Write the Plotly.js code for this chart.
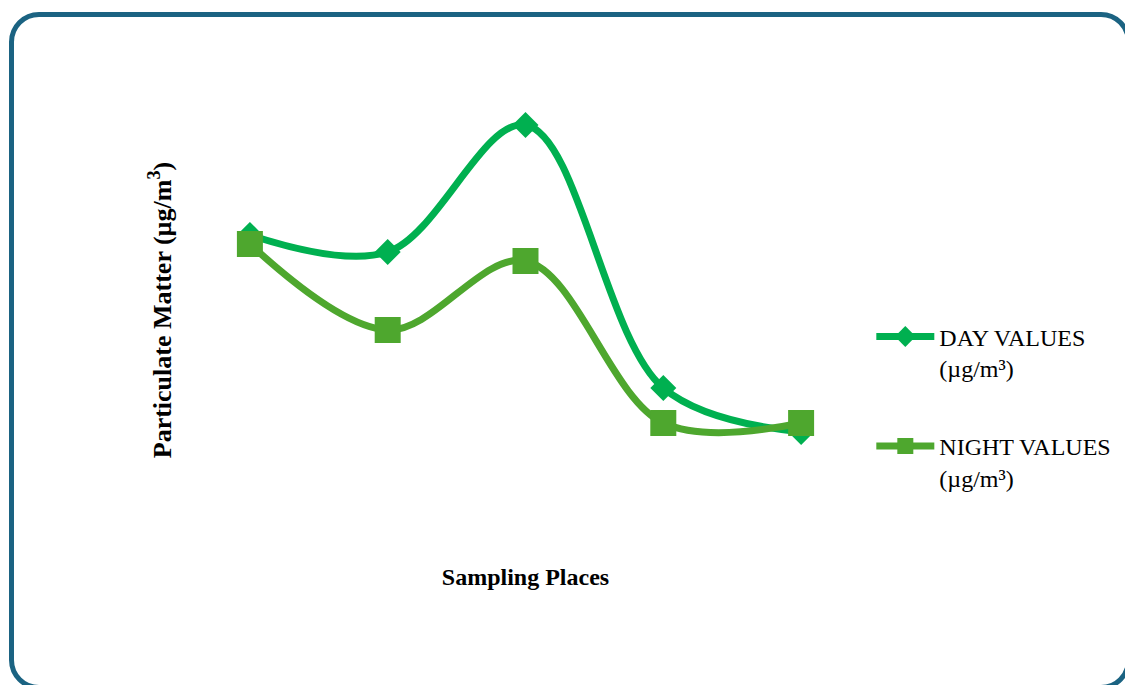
<!DOCTYPE html>
<html>
<head>
<meta charset="utf-8">
<script src="https://cdn.plot.ly/plotly-3.0.1.min.js"></script>
<style>
  html, body { margin: 0; padding: 0; background: #ffffff; }
  #wrap { position: relative; width: 1125px; height: 685px; overflow: hidden; }
  #chart { position: absolute; left: 0; top: 0; width: 1125px; height: 685px; }
  #frame { position: absolute; left: 9px; top: 12px; width: 1112px; height: 668px;
           border: 5px solid #1b6382; border-radius: 30px; pointer-events: none; z-index: 5; }
</style>
</head>
<body>
<div id="wrap">
  <div id="chart"></div>
  <div id="frame"></div>
</div>
<script>
// Sampling places (labels not shown in the reference)
const places = ["Place 1", "Place 2", "Place 3", "Place 4", "Place 5"];
// Particulate matter values (estimated, arbitrary units)
const dayValues = [305, 288, 415, 152, 108];
const nightValues = [296, 210, 279, 117, 117];
const dayName = "DAY VALUES<br>(µg/m³)";
const nightName = "NIGHT VALUES<br>(µg/m³)";

const dayColor = "#00b050";
const nightColor = "#4ea72e";
const serif = "Liberation Serif, Times New Roman, serif";

const traces = [
  {
    x: places, y: dayValues, name: dayName, type: "scatter", mode: "lines+markers",
    line: { color: dayColor, width: 7, shape: "spline", smoothing: 1 },
    marker: { symbol: "diamond", size: 20, color: dayColor },
    legend: "legend"
  },
  {
    x: places, y: nightValues, name: nightName, type: "scatter", mode: "lines+markers",
    line: { color: nightColor, width: 7, shape: "spline", smoothing: 1 },
    marker: { symbol: "square", size: 26, color: nightColor },
    legend: "legend2"
  }
];

const legendFont = { family: serif, size: 24, color: "#000000" };

const layout = {
  width: 1125, height: 685,
  margin: { l: 181, r: 255, t: 80, b: 145 },
  paper_bgcolor: "#ffffff", plot_bgcolor: "#ffffff",
  xaxis: {
    type: "category", range: [-0.5, 4.5],
    showgrid: false, zeroline: false, showline: false, showticklabels: false, ticks: "",
    title: { text: "<b>Sampling Places</b>", standoff: 28,
             font: { family: serif, size: 24, color: "#000000" } }
  },
  yaxis: {
    range: [0, 460],
    showgrid: false, zeroline: false, showline: false, showticklabels: false, ticks: "",
    title: { text: "<b>Particulate Matter (µg/m<sup>3</sup>)</b>", standoff: 0,
             font: { family: serif, size: 26, color: "#000000" } }
  },
  legend: {
    xref: "container", yref: "container", x: 0.7745, y: 0.541, xanchor: "left", yanchor: "top",
    font: legendFont, bgcolor: "rgba(0,0,0,0)", itemwidth: 58, valign: "top", itemclick: false
  },
  legend2: {
    xref: "container", yref: "container", x: 0.7745, y: 0.381, xanchor: "left", yanchor: "top",
    font: legendFont, bgcolor: "rgba(0,0,0,0)", itemwidth: 58, valign: "top", itemclick: false
  },
  showlegend: true
};

Plotly.newPlot("chart", traces, layout, { displayModeBar: false, staticPlot: true });
</script>
</body>
</html>
